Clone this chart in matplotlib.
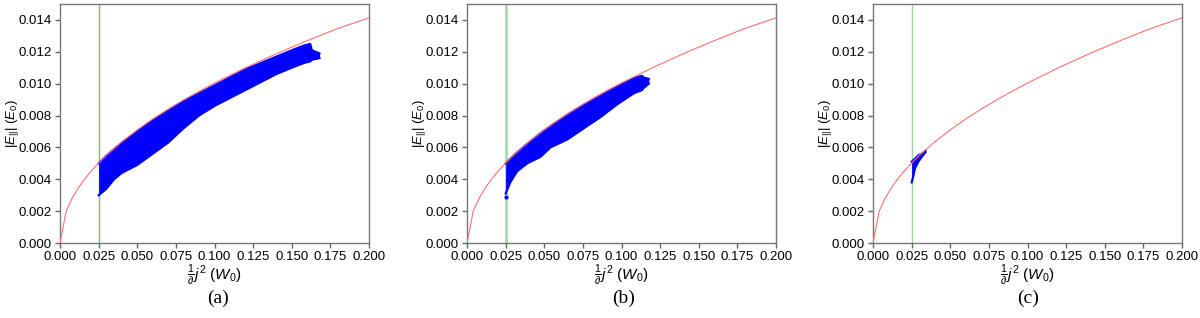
import matplotlib
matplotlib.use("Agg")
import matplotlib.pyplot as plt

plt.rcParams["font.family"] = ["Liberation Sans", "DejaVu Sans"]
plt.rcParams["mathtext.fontset"] = "custom"
plt.rcParams["mathtext.rm"] = "Liberation Sans"
plt.rcParams["mathtext.it"] = "Liberation Sans:italic"
plt.rcParams["mathtext.bf"] = "Liberation Sans:bold"

# Reference curve (red)
curve_x = [0.0, 0.004, 0.008, 0.012, 0.016, 0.020, 0.025, 0.030, 0.040, 0.050, 0.060,
           0.070, 0.080, 0.090, 0.100, 0.120, 0.140, 0.160, 0.180, 0.200]
curve_y = [0.0, 0.0020, 0.00284, 0.00348, 0.00402, 0.00449, 0.00502, 0.00550, 0.00635,
           0.00710, 0.00778, 0.00840, 0.00898, 0.00952, 0.01004, 0.01100, 0.01188,
           0.01270, 0.01347, 0.01413]

threshold_x = 0.025

# Blue point clouds: upper and lower boundaries
band_a_x = [0.025, 0.030, 0.035, 0.040, 0.050, 0.060, 0.070, 0.080, 0.090, 0.100,
            0.110, 0.120, 0.130, 0.140, 0.150, 0.158, 0.162, 0.163, 0.168]
band_a_upper = [0.0050, 0.00548, 0.0059, 0.0063, 0.0070, 0.0077, 0.0083, 0.0089, 0.0094,
                0.0099, 0.0104, 0.0109, 0.0113, 0.0117, 0.0121, 0.0124, 0.0125, 0.0121, 0.0119]
band_a_lower = [0.0030, 0.0034, 0.0040, 0.0044, 0.0049, 0.0056, 0.0063, 0.0072, 0.0080,
                0.0086, 0.0091, 0.0096, 0.0101, 0.0106, 0.0110, 0.0113, 0.0114, 0.0115, 0.0116]

band_b_x = [0.025, 0.028, 0.0324, 0.039, 0.0475, 0.054, 0.065, 0.0756, 0.0864, 0.0972,
            0.108, 0.1134, 0.114, 0.1177]
band_b_upper = [0.0050, 0.00529, 0.00569, 0.00624, 0.00689, 0.00734, 0.00806, 0.00869,
                0.00929, 0.00985, 0.01035, 0.0105, 0.0104, 0.0103]
band_b_lower = [0.0031, 0.0038, 0.0045, 0.0050, 0.0054, 0.0060, 0.0065, 0.0072, 0.0079,
                0.0087, 0.0094, 0.0096, 0.0097, 0.0100]
outlier_b_x = [0.0252]
outlier_b_y = [0.0029]

band_c_x = [0.025, 0.0261, 0.0272, 0.0293, 0.0315, 0.034]
band_c_upper = [0.0051, 0.0052, 0.0053, 0.0055, 0.0056, 0.0058]
band_c_lower = [0.0038, 0.0042, 0.0047, 0.0051, 0.0054, 0.0057]

x_ticks = [0.0, 0.025, 0.05, 0.075, 0.1, 0.125, 0.15, 0.175, 0.2]
y_ticks = [0.0, 0.002, 0.004, 0.006, 0.008, 0.010, 0.012, 0.014]
captions = ["(a)", "(b)", "(c)"]

panels = [
    (band_a_x, band_a_upper, band_a_lower, None, None),
    (band_b_x, band_b_upper, band_b_lower, outlier_b_x, outlier_b_y),
    (band_c_x, band_c_upper, band_c_lower, None, None),
]
green_styles = [("#6cc46c", 1.0), ("#a9d9a9", 2.0), ("#9fd39f", 1.0)]

fig = plt.figure(figsize=(12, 3.18), dpi=100)
lefts = [60 / 1200, 467 / 1200, 873 / 1200]
cap_x = [218 / 1200, 624 / 1200, 1028 / 1200]
w = 309 / 1200
b = 75 / 318
h = 239 / 318

for i, (bx, bu, bl, ox, oy) in enumerate(panels):
    ax = fig.add_axes([lefts[i], b, w, h])
    ax.plot(curve_x, curve_y, color="#ff7070", lw=0.8, zorder=3)
    ax.axvline(threshold_x, color=green_styles[i][0], lw=green_styles[i][1], zorder=1)
    ax.fill_between(bx, bl, bu, color="blue", lw=0, zorder=2)
    ax.plot(bx, bu, color="blue", lw=1.5, zorder=2)
    ax.plot(bx, bl, color="blue", lw=1.5, zorder=2)
    if ox is not None:
        ax.scatter(ox, oy, color="blue", s=4, zorder=2)
    ax.set_xlim(0, 0.2)
    ax.set_ylim(0, 0.015)
    ax.set_xticks(x_ticks)
    ax.set_xticklabels([f"{t:.3f}" for t in x_ticks])
    ax.set_yticks(y_ticks)
    ax.set_yticklabels([f"{t:.3f}" for t in y_ticks])
    ax.tick_params(labelsize=9.5, color="#666666", length=3.5, width=1, pad=2.5,
                   labelcolor="black")
    for s in ax.spines.values():
        s.set_color("#777777")
        s.set_linewidth(1.0)
    ax.set_xlabel(r"$\frac{1}{\partial}j^2$ $(W_0)$", fontsize=11, va="center")
    ax.set_ylabel(r"$|E_{||}|$ $(E_0)$", fontsize=9.5, va="center")
    ax.xaxis.set_label_coords(0.5, -0.134)
    ax.yaxis.set_label_coords(-0.155, 0.5)
    fig.text(cap_x[i], 20 / 318, captions[i], ha="center", va="center",
             fontsize=14, family="Liberation Serif")

fig.savefig("out.png", dpi=100)
